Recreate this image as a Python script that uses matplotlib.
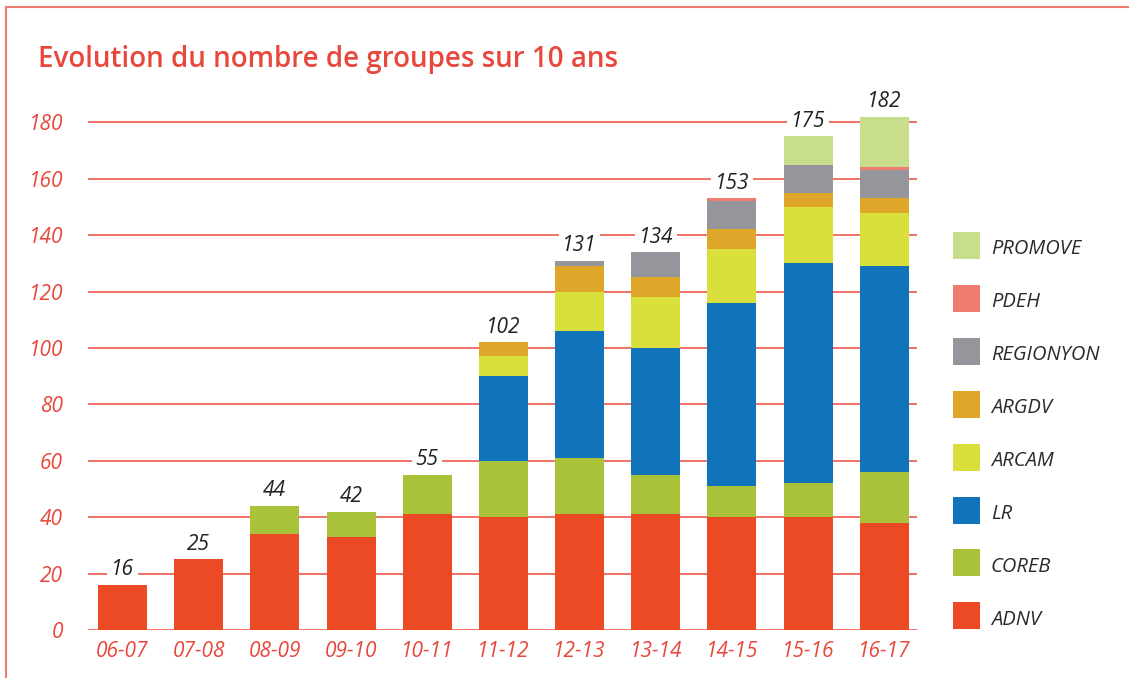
import matplotlib
matplotlib.use("Agg")
import matplotlib.pyplot as plt
import numpy as np
from matplotlib.patches import Rectangle
from matplotlib.lines import Line2D

plt.rcParams['font.family'] = ['Open Sans', 'DejaVu Sans']

seasons = ["06-07", "07-08", "08-09", "09-10", "10-11", "11-12",
           "12-13", "13-14", "14-15", "15-16", "16-17"]
ADNV      = [16, 25, 34, 33, 41, 40, 41, 41, 40, 40, 38]
COREB     = [0, 0, 10, 9, 14, 20, 20, 14, 11, 12, 18]
LR        = [0, 0, 0, 0, 0, 30, 45, 45, 65, 78, 73]
ARCAM     = [0, 0, 0, 0, 0, 7, 14, 18, 19, 20, 19]
ARGDV     = [0, 0, 0, 0, 0, 5, 9, 7, 7, 5, 5]
REGIONYON = [0, 0, 0, 0, 0, 0, 2, 9, 10, 10, 10]
PDEH      = [0, 0, 0, 0, 0, 0, 0, 0, 1, 0, 1]
PROMOVE   = [0, 0, 0, 0, 0, 0, 0, 0, 0, 10, 18]
totals    = [16, 25, 44, 42, 55, 102, 131, 134, 153, 175, 182]
yticks    = [0, 20, 40, 60, 80, 100, 120, 140, 160, 180]

series = [("ADNV", ADNV, "#EB4A24"),
          ("COREB", COREB, "#A8C23A"),
          ("LR", LR, "#1174BA"),
          ("ARCAM", ARCAM, "#D9E03B"),
          ("ARGDV", ARGDV, "#DEA72A"),
          ("REGIONYON", REGIONYON, "#94969C"),
          ("PDEH", PDEH, "#F07B70"),
          ("PROMOVE", PROMOVE, "#C8DE8C")]

RED = "#E8473C"
GRID = "#F0665A"

W, H = 1129, 678
fig = plt.figure(figsize=(W / 100, H / 100), dpi=100)

# frame
fig.add_artist(Line2D([6 / W, 6 / W], [0, 1 - 7 / H], color="#F07A6E", lw=1.5))
fig.add_artist(Line2D([6 / W, 1], [1 - 7 / H, 1 - 7 / H], color="#F07A6E", lw=1.5))

fig.text(38 / W, 1 - 59 / H, "Evolution du nombre de groupes sur 10 ans",
         color=RED, fontsize=20, fontweight="semibold", va="center", ha="left")

ax_left, ax_right = 88, 917
ax_bottom_px, ax_top_px = 630, 80
ax = fig.add_axes([ax_left / W, (H - ax_bottom_px) / H,
                   (ax_right - ax_left) / W, (ax_bottom_px - ax_top_px) / H])
ax.set_xlim(-0.453, 10.43)
ax.set_ylim(0, 195)

x = np.arange(len(seasons))
bottom = np.zeros(len(seasons))
for name, vals, col in series:
    v = np.array(vals, dtype=float)
    ax.bar(x, v, width=0.643, bottom=bottom, color=col, zorder=3, linewidth=0)
    bottom += v

for yt in yticks:
    ax.axhline(yt, color=GRID, lw=1.3, zorder=1)

for xi, t in zip(x, totals):
    ax.text(xi, t + 1.6, str(t), ha="center", va="bottom", fontsize=15,
            style="italic", color="#222222", zorder=4,
            bbox=dict(facecolor="white", edgecolor="none", pad=2.5))

ax.set_yticks(yticks)
ax.set_yticklabels([str(v) for v in yticks])
ax.set_xticks(x)
ax.set_xticklabels(seasons)
ax.tick_params(axis="both", length=0, colors=RED, labelsize=15)
ax.tick_params(axis="y", pad=18)
ax.tick_params(axis="x", pad=8)
for lab in ax.get_xticklabels() + ax.get_yticklabels():
    lab.set_style("italic")
for s in ax.spines.values():
    s.set_visible(False)

# legend (top to bottom: reverse order)
leg_top = 245.5
leg_step = 52.9
for i, (name, vals, col) in enumerate(reversed(series)):
    yc = leg_top + i * leg_step
    fig.add_artist(Rectangle((953 / W, 1 - (yc + 13.5) / H), 27 / W, 27 / H,
                             transform=fig.transFigure, facecolor=col, edgecolor="none"))
    fig.text(991 / W, 1 - (yc + 4) / H, name, fontsize=14.5, style="italic",
             color="#2A2A2A", va="center", ha="left")

fig.savefig("out.png", dpi=100)
